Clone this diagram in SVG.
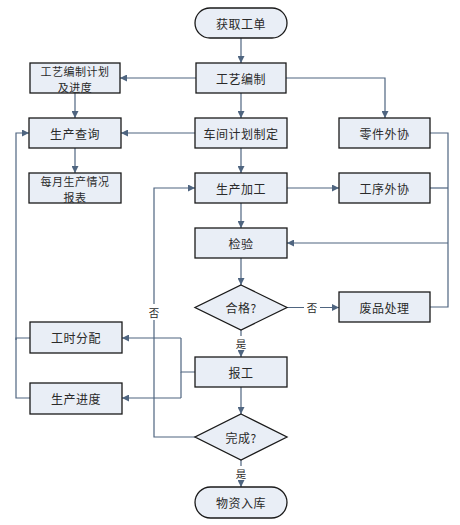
<svg xmlns="http://www.w3.org/2000/svg" width="460" height="525" viewBox="0 0 460 525">
<style>
.box{fill:#e9eef6;stroke:#1a1a1a;stroke-width:1.3}
.t{font-family:"Noto Sans CJK SC","Liberation Serif",serif;font-size:12px;fill:#2a2a2a;text-anchor:middle;dominant-baseline:central;letter-spacing:0.5px}
.t2{font-size:11px}
.lbl{font-family:"Noto Sans CJK SC","Liberation Serif",serif;font-size:10.5px;fill:#2a2a2a;text-anchor:middle;dominant-baseline:central}
.c{fill:none;stroke:#4f6580;stroke-width:1.2}
.a{marker-end:url(#ah)}
</style>
<defs>
<marker id="ah" viewBox="0 0 10 10" refX="10" refY="5" markerWidth="8" markerHeight="7" markerUnits="userSpaceOnUse" orient="auto">
<path d="M0,0 L10,5 L0,10 z" fill="#4f6580"/>
</marker>
</defs>
<rect width="460" height="525" fill="#ffffff"/>
<g id="connectors">
<path class="c a" d="M241,38 V63"/>
<path class="c a" d="M196,78 H120"/>
<path class="c a" d="M286,78 H385 V118"/>
<path class="c a" d="M241,93 V118"/>
<path class="c a" d="M75,93 V118"/>
<path class="c a" d="M195,133 H121"/>
<path class="c a" d="M75,148 V173"/>
<path class="c a" d="M241,148 V173"/>
<path class="c a" d="M287,188 H339"/>
<path class="c a" d="M241,203 V228"/>
<path class="c a" d="M241,258 V285"/>
<path class="c a" d="M287,307.5 H339"/>
<path class="c a" d="M241,330 V357"/>
<path class="c a" d="M241,387 V414"/>
<path class="c a" d="M241,460 V487"/>
<path class="c a" d="M195,437 H154 V188 H195"/>
<path class="c" d="M430,133 H448 V307 H430"/>
<path class="c" d="M430,188 H448"/>
<path class="c a" d="M448,243 H287"/>
<path class="c" d="M30,338 H16 V398 H30"/>
<path class="c a" d="M16,340 V133 H29"/>
<path class="c" d="M195,372 H181 V338"/>
<path class="c a" d="M181,338 H122"/>
<path class="c" d="M181,372 V398"/>
<path class="c a" d="M181,398 H122"/>
<rect x="304" y="300" width="16" height="15" fill="#ffffff"/>
<text class="lbl" x="312" y="307.5">否</text>
<rect x="146" y="304" width="16" height="16" fill="#ffffff"/>
<text class="lbl" x="154" y="312">否</text>
<rect x="234" y="336" width="14" height="14" fill="#ffffff"/>
<text class="lbl" x="241" y="343">是</text>
<rect x="234" y="466" width="14" height="14" fill="#ffffff"/>
<text class="lbl" x="241" y="473">是</text>
</g>
<g id="n-start"><rect class="box" x="195" y="8" width="92" height="30" rx="15" ry="15"/><text class="t" x="241" y="23">获取工单</text></g>
<g id="n-gybz"><rect class="box" x="196" y="63" width="90" height="30"/><text class="t" x="241" y="78">工艺编制</text></g>
<g id="n-gyjh"><rect class="box" x="30" y="63" width="90" height="30"/><text class="t t2" x="75" y="70.5">工艺编制计划</text><text class="t t2" x="75" y="86.5">及进度</text></g>
<g id="n-sccx"><rect class="box" x="29" y="118" width="92" height="30"/><text class="t" x="75" y="133">生产查询</text></g>
<g id="n-cjjh"><rect class="box" x="195" y="118" width="92" height="30"/><text class="t" x="241" y="133">车间计划制定</text></g>
<g id="n-ljwx"><rect class="box" x="339" y="118" width="91" height="30"/><text class="t" x="384.5" y="133">零件外协</text></g>
<g id="n-myqk"><rect class="box" x="29" y="173" width="92" height="30"/><text class="t t2" x="75" y="180.5">每月生产情况</text><text class="t t2" x="75" y="196.5">报表</text></g>
<g id="n-scjg"><rect class="box" x="195" y="173" width="92" height="30"/><text class="t" x="241" y="188">生产加工</text></g>
<g id="n-gxwx"><rect class="box" x="339" y="173" width="91" height="30"/><text class="t" x="384.5" y="188">工序外协</text></g>
<g id="n-jy"><rect class="box" x="195" y="228" width="92" height="30"/><text class="t" x="241" y="243">检验</text></g>
<g id="n-hg"><polygon class="box" points="241,285 287,307.5 241,330 195,307.5"/><text class="t" x="241" y="307.5">合格?</text></g>
<g id="n-fpcl"><rect class="box" x="339" y="292" width="91" height="30"/><text class="t" x="384.5" y="307">废品处理</text></g>
<g id="n-gsfp"><rect class="box" x="30" y="322" width="92" height="31"/><text class="t" x="76" y="337.5">工时分配</text></g>
<g id="n-bg"><rect class="box" x="195" y="357" width="92" height="30"/><text class="t" x="241" y="372">报工</text></g>
<g id="n-scjd"><rect class="box" x="30" y="383" width="92" height="31"/><text class="t" x="76" y="398.5">生产进度</text></g>
<g id="n-wc"><polygon class="box" points="241,414 287,437 241,460 195,437"/><text class="t" x="241" y="437">完成?</text></g>
<g id="n-end"><rect class="box" x="195" y="487" width="92" height="31" rx="15.5" ry="15.5"/><text class="t" x="241" y="502.5">物资入库</text></g>
</svg>
